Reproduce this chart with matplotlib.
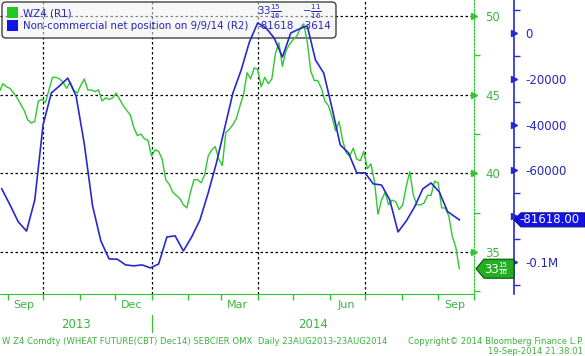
import numpy as np
import pandas as pd
import matplotlib
matplotlib.use("Agg")
import matplotlib.pyplot as plt
import matplotlib.dates as mdates
import matplotlib.ticker as mticker
from matplotlib.patches import Polygon, FancyBboxPatch, Rectangle
from matplotlib.transforms import IdentityTransform

# WZ4 wheat future, sampled every 3 calendar days up to 19-Sep-2014
wheat = [45.2, 45.7, 45.5, 45.4, 45.1, 44.8, 44.4, 44.0, 43.4, 43.2,
         43.3, 44.6, 44.7, 44.5, 45.3, 46.1, 46.1, 46.0, 45.8, 45.4,
         45.8, 45.3, 45.1, 45.6, 46.0, 45.3, 45.3, 45.2, 45.3, 44.6,
         44.8, 44.7, 44.8, 45.1, 44.7, 44.3, 44.0, 43.7, 42.9, 42.4,
         42.5, 42.2, 42.1, 41.1, 41.5, 41.4, 40.9, 39.6, 39.3, 38.8,
         38.6, 38.4, 38.0, 37.8, 38.8, 39.6, 39.6, 39.4, 39.9, 41.1,
         41.5, 41.7, 40.9, 40.5, 42.6, 42.8, 43.1, 43.5, 44.3, 45.0,
         46.4, 46.0, 46.7, 46.6, 45.5, 46.1, 45.7, 46.0, 47.6, 48.3,
         46.8, 47.8, 48.2, 48.5, 48.7, 49.2, 49.5, 48.4, 46.5, 45.9,
         45.9, 45.4, 44.6, 44.3, 43.6, 42.7, 43.3, 42.1, 41.3, 41.1,
         41.6, 40.9, 40.8, 41.4, 40.3, 40.6, 39.5, 37.4, 38.3, 38.8,
         38.0, 38.3, 38.2, 37.7, 38.0, 39.2, 40.1, 38.6, 38.0, 38.0,
         38.1, 38.6, 38.6, 39.5, 39.4, 37.8, 37.8, 37.3, 36.0, 35.3,
         33.9375]
wheat_dates = pd.date_range(end="2014-09-19", periods=len(wheat), freq="3D")

# non-commercial net position (weekly, Tuesdays) + latest value
cot_dates = list(pd.date_range("2013-08-27", "2014-09-09", freq="7D")) + [pd.Timestamp("2014-09-19")]
cot = [-68100, -75100, -82500, -86500, -72900, -40200, -26200, -23100, -19700, -27500,
       -48500, -75500, -90800, -98700, -98800, -101300, -101700, -101300, -102600, -100900,
       -89100, -88600, -95200, -89100, -81700, -69900, -56800, -41500, -26200, -16200,
       -3900, 4400, 2200, -2200, -10500, 0, 1700, 3100, -11800, -17500,
       -32700, -48900, -52400, -61100, -61100, -65900, -66400, -72900, -86900, -82100,
       -76000, -68100, -65500, -69400, -78004, -81618]

green = "#2ec82e"
gtext = "#3cb43c"
blue = "#2828d0"
btext = "#2626b8"

W, H = 585, 356
fig = plt.figure(figsize=(W / 100, H / 100), dpi=100)
ax = fig.add_axes([0, 62 / H, 474 / W, 294 / H])
ax2 = ax.twinx()

ax.plot(wheat_dates, wheat, color=green, lw=1.0, zorder=3)
ax.set_xlim(pd.Timestamp("2013-08-25 12:00"), pd.Timestamp("2014-10-01 10:00"))
ax.set_ylim(32.33, 51.02)

for s in ["left", "top"]:
    ax.spines[s].set_visible(False)
ax.spines["bottom"].set_color(green)
ax.spines["right"].set_color(green)
ax.spines["right"].set_linestyle((0, (1.5, 1.5)))

# x axis: month ticks, quarter labels mid month
ax.xaxis.set_major_locator(mdates.MonthLocator())
ax.xaxis.set_major_formatter(mticker.NullFormatter())
ax.xaxis.set_minor_locator(mdates.MonthLocator(bymonth=[3, 6, 9, 12], bymonthday=15))
ax.xaxis.set_minor_formatter(mdates.DateFormatter("%b"))
ax.tick_params(axis="x", which="major", length=4, color=green, width=1)
ax.tick_params(axis="x", which="minor", length=0, pad=4, labelsize=8, labelcolor=gtext)

# green y axis on the right
ax.yaxis.tick_right()
ax.set_yticks([35, 40, 45, 50])
ax.yaxis.set_minor_locator(mticker.FixedLocator([32.5, 37.5, 42.5, 47.5]))
ax.tick_params(axis="y", which="major", left=False, labelleft=False, right=True, labelright=True,
               length=0, pad=8, labelsize=8.5, labelcolor=gtext)
ax.tick_params(axis="y", which="minor", left=False, right=True, length=4, color=green, width=1)
ax.plot([1] * 4, [35, 40, 45, 50], marker=">", ls="none", ms=5, color=green,
        transform=ax.get_yaxis_transform(), clip_on=False, zorder=4)

# grid
for v in [35, 40, 45, 50]:
    ax.axhline(v, color="black", lw=0.9, ls=(0, (2, 2)), zorder=1)
for d in ["2013-10-01", "2014-01-01", "2014-04-01", "2014-07-01"]:
    ax.axvline(pd.Timestamp(d), color="black", lw=0.9, ls=(0, (2, 2)), zorder=1)

# blue axis
ax2.plot(cot_dates, cot, color=blue, lw=1.2)
ax2.set_ylim(-114000, 14400)
for s in ["left", "top", "bottom"]:
    ax2.spines[s].set_visible(False)
ax2.spines["right"].set_position(("axes", 514 / 474))
ax2.spines["right"].set_color(blue)
ax2.spines["right"].set_linewidth(1.2)
bticks = [-100000, -80000, -60000, -40000, -20000, 0]
ax2.set_yticks(bticks)
ax2.set_yticklabels(["-0.1M", "", "-60000", "-40000", "-20000", "0"])
ax2.yaxis.set_minor_locator(mticker.FixedLocator([-110000, -90000, -70000, -50000, -30000, -10000, 10000]))
ax2.tick_params(axis="y", which="major", length=0, pad=8, labelsize=8.5, labelcolor=btext)
ax2.tick_params(axis="y", which="minor", length=4, color=blue, width=1)
ax2.plot([514 / 474] * 6, bticks, marker=">", ls="none", ms=5, color=blue,
         transform=ax2.get_yaxis_transform(), clip_on=False)

# value tags
fig.canvas.draw()
idt = IdentityTransform()
yb = ax2.transData.transform((0, cot[-1]))[1]
fig.patches.append(Polygon([(514, yb), (521, yb + 7), (585, yb + 7), (585, yb - 7), (521, yb - 7)],
                           closed=True, transform=idt, facecolor="#1212e6",
                           edgecolor="#101080", lw=0.8))
fig.text(549, yb, "-81618.00", transform=idt, color="white",
         fontsize=8.5, ha="center", va="center")
yg = ax.transData.transform((0, wheat[-1]))[1]
fig.patches.append(Polygon([(476, yg), (484, yg + 9.5), (514, yg + 9.5), (514, yg - 9.5), (484, yg - 9.5)],
                           closed=True, transform=idt, facecolor="#22b022",
                           edgecolor="#0b4d0b", lw=0.8))
fig.text(492, yg - 0.5, "33", transform=idt, color="white", fontsize=8.5, ha="center", va="center")
fig.text(502.5, yg + 3.5, "15", transform=idt, color="white", fontsize=5, ha="center", va="center")
fig.text(502.5, yg - 3.5, "16", transform=idt, color="white", fontsize=5, ha="center", va="center")
fig.lines.append(plt.Line2D([499, 506], [yg, yg], transform=idt, color="white", lw=0.6))

# legend box
def px(x, y):
    return x, H - y

leg = FancyBboxPatch(px(2, 38), 334, 36, boxstyle="round,pad=0,rounding_size=4",
                     transform=idt, facecolor=(0.95, 0.95, 0.95, 0.55),
                     edgecolor="#404040", lw=1.0, zorder=1.5, clip_on=False)
ax.add_patch(leg)
fig.patches.append(Rectangle(px(7, 18), 11, 11, transform=idt, facecolor="#22c822"))
fig.patches.append(Rectangle(px(7, 31), 11, 11, transform=idt, facecolor="#1414e6"))
lt = dict(transform=idt, color=btext, fontsize=7.4, va="center")
fig.text(*px(23, 13), "WZ4 (R1)", **lt)
fig.text(*px(23, 26), "Non-commercial net position on 9/9/14 (R2)", **lt)
fig.text(*px(257, 12), r"$\mathdefault{33}\frac{15}{16}$", **lt)
fig.text(*px(257, 26), "-81618", **lt)
fig.text(*px(302, 12), r"$\mathdefault{-}\frac{11}{16}$", **lt)
fig.text(*px(302, 26), "-3614", **lt)

# years
x0, x1 = ax.get_xlim()
jan = mdates.date2num(pd.Timestamp("2014-01-01"))
yt = ax.get_xaxis_transform()
ax.text((x0 + jan) / 2, -0.105, "2013", transform=yt, ha="center", va="center",
        color=gtext, fontsize=8.5)
ax.text((jan + x1) / 2, -0.105, "2014", transform=yt, ha="center", va="center",
        color=gtext, fontsize=8.5)
ax.plot([jan, jan], [-0.07, -0.13], color=green, lw=0.8, transform=yt, clip_on=False)

# footer
fig.text(*px(2, 341), "W Z4 Comdty (WHEAT FUTURE(CBT) Dec14) SEBCIER OMX  Daily 23AUG2013-23AUG2014",
         transform=idt, color=gtext, fontsize=6.1, va="center")
fig.text(*px(583, 341), "Copyright\u00a9 2014 Bloomberg Finance L.P.",
         transform=idt, color=gtext, fontsize=6.1, va="center", ha="right")
fig.text(*px(583, 351), "19-Sep-2014 21:38:01",
         transform=idt, color=gtext, fontsize=6.1, va="center", ha="right")

fig.savefig("out.png", dpi=100)
